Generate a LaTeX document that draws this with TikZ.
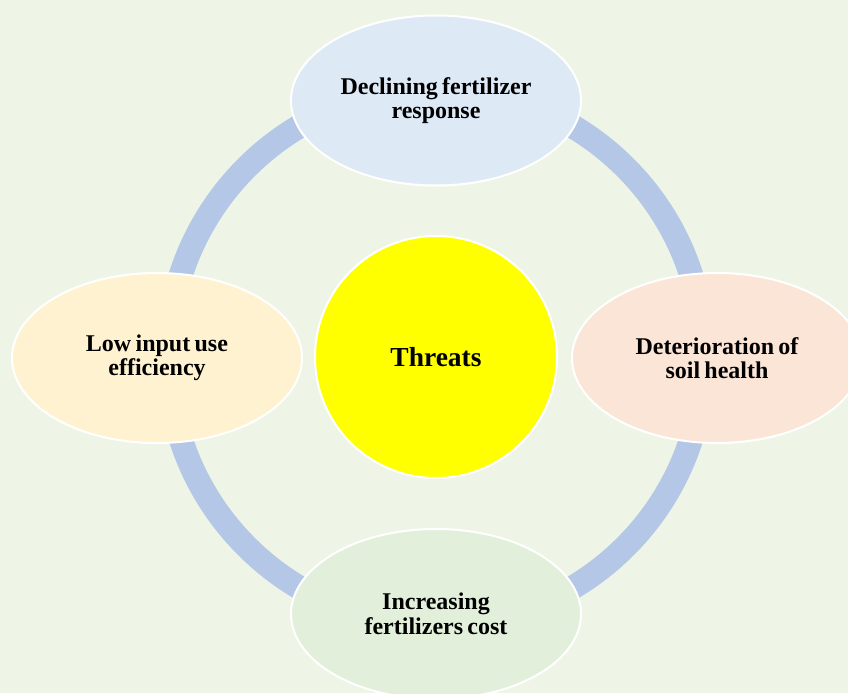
\documentclass[tikz,border=0pt]{standalone}
\usepackage{fontspec}
\setmainfont{Liberation Serif}
\usetikzlibrary{shapes.geometric}

\definecolor{pagebg}{RGB}{238,245,230}
\definecolor{ringblue}{RGB}{180,199,231}
\definecolor{fillblue}{RGB}{222,233,246}
\definecolor{fillcream}{RGB}{255,242,209}
\definecolor{fillpeach}{RGB}{251,229,214}
\definecolor{fillgreen}{RGB}{226,239,218}
\definecolor{fillyellow}{RGB}{255,255,0}

% bold labels with a slightly tighter word space
\newcommand{\threatfont}{\bfseries\fontsize{24}{24.5}\selectfont\spaceskip=0.18em plus 0.05em}

\tikzset{
  threat/.style={ellipse, draw=white, line width=2pt, minimum width=290pt,
    minimum height=170pt, inner sep=0pt, align=center, font=\threatfont},
  hub/.style={circle, draw=white, line width=2pt, fill=fillyellow,
    minimum size=242pt, inner sep=0pt,
    font=\bfseries\fontsize{27.5}{28}\selectfont},
  cycle ring/.style={draw=ringblue, line width=24pt}
}

\begin{document}
\begin{tikzpicture}[x=1pt,y=-1pt]
  % page and background
  \clip (0,0) rectangle (848,693);
  \fill[pagebg] (0,0) rectangle (848,693);

  % ring joining the four threats
  \coordinate (ringcenter) at (436,357);
  \draw[cycle ring] (ringcenter) circle[radius=268pt];

  % central hub
  \node[hub] (threats) at (ringcenter) {Threats};

  % the four threats
  \node[threat, fill=fillblue]  (top)    at (436,100.5) {Declining fertilizer\\response};
  \node[threat, fill=fillcream] (left)   at (157,358)   {Low input use\\efficiency};
  \node[threat, fill=fillpeach] (right)  at (717,358)   {Deterioration of\\soil health};
  \node[threat, fill=fillgreen] (bottom) at (436,614)   {Increasing\\fertilizers cost};
\end{tikzpicture}
\end{document}
